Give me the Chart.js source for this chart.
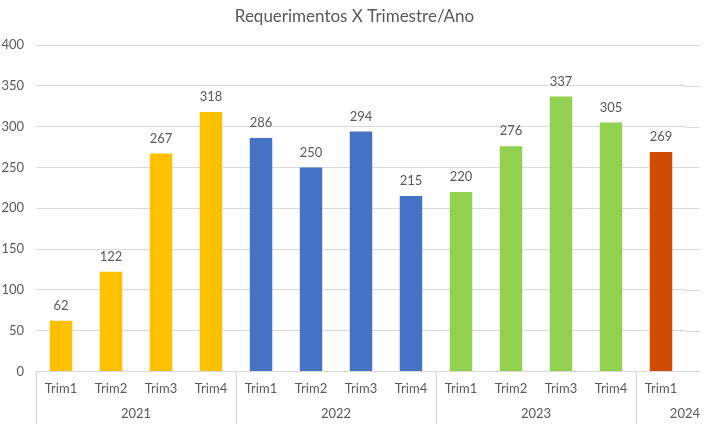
<!DOCTYPE html>
<html>
<head>
<meta charset="utf-8">
<script src="https://cdn.jsdelivr.net/npm/chart.js@4/dist/chart.umd.min.js"></script>
<style>
  body { margin: 0; background: #fff; }
  #wrap { width: 709px; height: 427px; }
</style>
</head>
<body>
<div id="wrap"><canvas id="grafico" width="709" height="427"></canvas></div>
<script>
// dados do gráfico
const trimestres = ['Trim1', 'Trim2', 'Trim3', 'Trim4', 'Trim1', 'Trim2', 'Trim3', 'Trim4', 'Trim1', 'Trim2', 'Trim3', 'Trim4', 'Trim1'];
const anos = ['2021', '2022', '2023', '2024'];
const trimPorAno = [4, 4, 4, 1];
const requerimentos = [62, 122, 267, 318, 286, 250, 294, 215, 220, 276, 337, 305, 269];
const yTicks = [0, 50, 100, 150, 200, 250, 300, 350, 400];
const titulo = 'Requerimentos X Trimestre/Ano';

// cores por ano
const coresAno = ['#FFC000', '#4472C4', '#92D050', '#D04A02'];
const coresBarras = [];
trimPorAno.forEach((n, i) => { for (let k = 0; k < n; k++) coresBarras.push(coresAno[i]); });

const corTexto = '#595959';
const corGrade = '#D9D9D9';
const extraDireita = 14; // a grade passa um pouco da última categoria

// título centrado na imagem toda
const tituloCentral = {
  id: 'tituloCentral',
  afterDraw(chart) {
    const ctx = chart.ctx;
    ctx.save();
    ctx.font = '17px Lato';
    ctx.fillStyle = corTexto;
    ctx.textAlign = 'center';
    ctx.textBaseline = 'middle';
    ctx.fillText(titulo, chart.width / 2, 17);
    ctx.restore();
  }
};

// rótulos de valor acima das barras
const rotulosValor = {
  id: 'rotulosValor',
  afterDatasetsDraw(chart) {
    const ctx = chart.ctx;
    const meta = chart.getDatasetMeta(0);
    ctx.save();
    ctx.font = '13px Lato';
    ctx.fillStyle = corTexto;
    ctx.textAlign = 'center';
    ctx.textBaseline = 'middle';
    meta.data.forEach((bar, i) => {
      ctx.fillText(requerimentos[i], bar.x, bar.y - 15);
    });
    ctx.restore();
  }
};

// prolonga a grade horizontal até a borda direita
const gradeExtra = {
  id: 'gradeExtra',
  beforeDatasetsDraw(chart) {
    const ctx = chart.ctx;
    const y = chart.scales.y;
    const area = chart.chartArea;
    ctx.save();
    ctx.strokeStyle = corGrade;
    ctx.lineWidth = 1;
    yTicks.forEach(v => {
      const py = Math.round(y.getPixelForValue(v)) + 0.5;
      ctx.beginPath();
      ctx.moveTo(area.right, py);
      ctx.lineTo(area.right + extraDireita, py);
      ctx.stroke();
    });
    ctx.restore();
  }
};

// eixo de anos (segundo nível) e separadores
const eixoAnos = {
  id: 'eixoAnos',
  afterDraw(chart) {
    const ctx = chart.ctx;
    const x = chart.scales.x;
    const area = chart.chartArea;
    const passo = x.getPixelForValue(1) - x.getPixelForValue(0);
    ctx.save();
    ctx.strokeStyle = corGrade;
    ctx.lineWidth = 1;
    ctx.font = '13px Lato';
    ctx.fillStyle = corTexto;
    ctx.textBaseline = 'middle';
    let ini = 0;
    trimPorAno.forEach((n, i) => {
      const x0 = x.getPixelForValue(ini) - passo / 2;
      const x1 = x.getPixelForValue(ini + n - 1) + passo / 2;
      ctx.beginPath();
      ctx.moveTo(Math.round(x0) + 0.5, area.bottom);
      ctx.lineTo(Math.round(x0) + 0.5, area.bottom + 53);
      ctx.stroke();
      if (i === trimPorAno.length - 1) {
        ctx.textAlign = 'right';
        ctx.fillText(anos[i], area.right + extraDireita, area.bottom + 42);
      } else {
        ctx.textAlign = 'center';
        ctx.fillText(anos[i], (x0 + x1) / 2, area.bottom + 42);
      }
      ini += n;
    });
    // linha do eixo
    ctx.beginPath();
    ctx.moveTo(area.left, Math.round(area.bottom) + 0.5);
    ctx.lineTo(area.right + extraDireita - 2, Math.round(area.bottom) + 0.5);
    ctx.stroke();
    ctx.restore();
  }
};

new Chart(document.getElementById('grafico'), {
  type: 'bar',
  data: {
    labels: trimestres,
    datasets: [{
      label: 'Requerimentos',
      data: requerimentos,
      backgroundColor: coresBarras,
      categoryPercentage: 1,
      barPercentage: 0.45
    }]
  },
  options: {
    responsive: false,
    animation: false,
    layout: { padding: { top: 45, right: 23, bottom: 28, left: 0 } },
    plugins: {
      legend: { display: false },
      tooltip: { enabled: false },
      title: { display: false }
    },
    scales: {
      x: {
        grid: { display: false },
        border: { display: false },
        ticks: {
          color: corTexto,
          font: { family: 'Lato', size: 13 },
          padding: 2,
          maxRotation: 0,
          autoSkip: false
        }
      },
      y: {
        min: 0,
        max: 400,
        afterBuildTicks(axis) { axis.ticks = yTicks.map(v => ({ value: v })); },
        afterFit(axis) { axis.width = 36; },
        grid: { color: corGrade, drawTicks: false },
        border: { display: false },
        ticks: {
          color: corTexto,
          font: { family: 'Lato', size: 13 },
          padding: 12
        }
      }
    }
  },
  plugins: [gradeExtra, rotulosValor, eixoAnos, tituloCentral]
});
</script>
</body>
</html>
